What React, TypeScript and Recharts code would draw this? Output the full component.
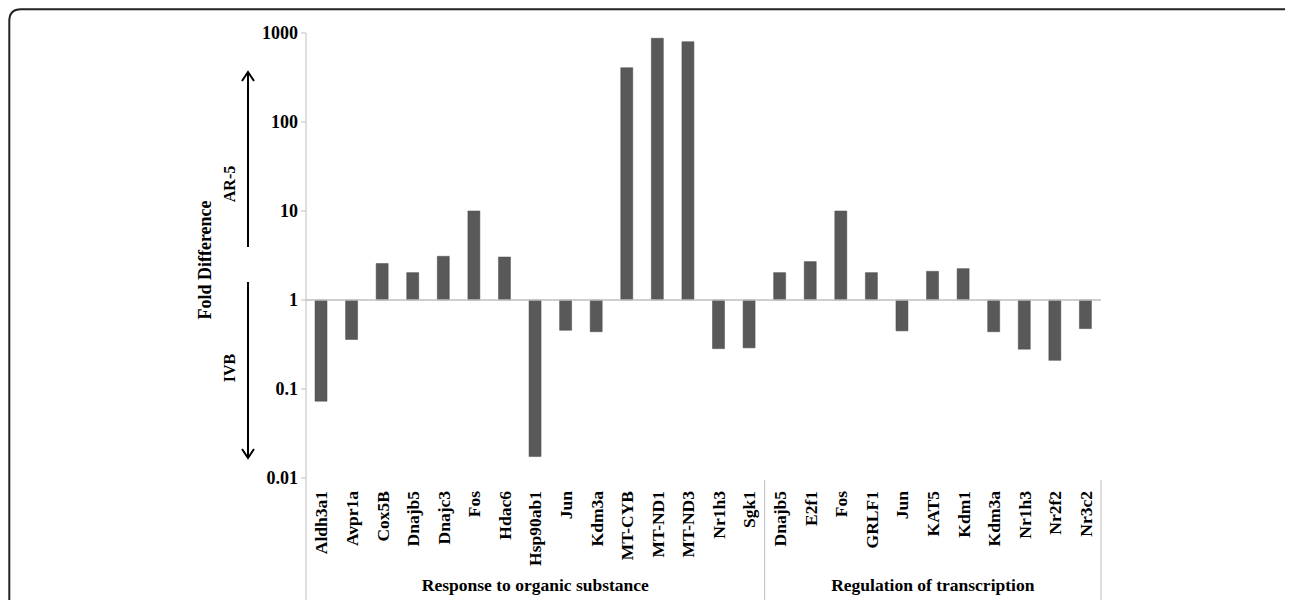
import { BarChart, Bar, XAxis, YAxis, ReferenceLine, Customized } from 'recharts';

// gene labels, left group then right group
const organicGenes = [
  'Aldh3a1', 'Avpr1a', 'Cox5B', 'Dnajb5', 'Dnajc3', 'Fos', 'Hdac6', 'Hsp90ab1',
  'Jun', 'Kdm3a', 'MT-CYB', 'MT-ND1', 'MT-ND3', 'Nr1h3', 'Sgk1',
];
const organicFold = [0.073, 0.36, 2.57, 2.03, 3.1, 10, 3.04, 0.0174, 0.457, 0.44, 407, 873, 799, 0.284, 0.29];

const transcriptionGenes = ['Dnajb5', 'E2f1', 'Fos', 'GRLF1', 'Jun', 'KAT5', 'Kdm1', 'Kdm3a', 'Nr1h3', 'Nr2f2', 'Nr3c2'];
const transcriptionFold = [2.03, 2.7, 10, 2.03, 0.45, 2.1, 2.25, 0.44, 0.28, 0.21, 0.477];

const groups = ['Response to organic substance', 'Regulation of transcription'];
const yTicks = [0.01, 0.1, 1, 10, 100, 1000];

const genes = [...organicGenes, ...transcriptionGenes];
const folds = [...organicFold, ...transcriptionFold];

const data = genes.map((name, i) => ({
  id: `g${i}`,
  name,
  // bars hang from 1, up or down
  range: [Math.min(1, folds[i]), Math.max(1, folds[i])],
}));

const W = 1285;
const H = 592;
const AXIS_W = 298;
const RIGHT = 192;
const TOP = 25;
const X_AXIS_H = 122;
const plotBottom = H - X_AXIS_H;
const plotW = W - AXIS_W - RIGHT;
const band = plotW / genes.length;

const font = '"Liberation Serif", "Times New Roman", serif';
const grey = '#bfbfbf';

function GeneTick({ x, payload }: { x?: number; payload?: { index: number } }) {
  const i = payload?.index ?? 0;
  const cx = x ?? 0;
  const y = plotBottom + 13;
  const left = cx - band / 2;
  const right = cx + band / 2;
  return (
    <g>
      {i === organicGenes.length && <line x1={left} x2={left} y1={plotBottom + 2} y2={H} stroke={grey} />}
      {i === genes.length - 1 && <line x1={right} x2={right} y1={plotBottom + 2} y2={H} stroke={grey} />}
      <text
        x={cx}
        y={y}
        transform={`rotate(-90, ${cx}, ${y})`}
        textAnchor="end"
        dy="0.35em"
        fontFamily={font}
        fontWeight="bold"
        fontSize={17.5}
        fill="#000"
      >
        {genes[i]}
      </text>
    </g>
  );
}

function Extras() {
  const ax = 240;
  const split = AXIS_W + organicGenes.length * band;
  const groupCenters = [(AXIS_W + split) / 2, (split + AXIS_W + plotW) / 2];
  return (
    <g>
      <path
        d="M 1.3 600 L 1.3 13 Q 1.3 1.3 13 1.3 L 1278 1.3 Q 1281 1.3 1282 4 L 1283 8 L 1283 600"
        fill="none"
        stroke="#222"
        strokeWidth={2}
      />
      <line x1={AXIS_W} x2={AXIS_W} y1={plotBottom} y2={H} stroke={grey} />
      {groups.map((g, i) => (
        <text
          key={g}
          x={groupCenters[i]}
          y={583}
          textAnchor="middle"
          fontFamily={font}
          fontWeight="bold"
          fontSize={17.5}
        >
          {g}
        </text>
      ))}
      <text
        x={197}
        y={252}
        transform="rotate(-90, 197, 252)"
        textAnchor="middle"
        dy="0.35em"
        fontFamily={font}
        fontWeight="bold"
        fontSize={18}
      >
        Fold Difference
      </text>
      <text x={221} y={176} transform="rotate(-90, 221, 176)" textAnchor="middle" dy="0.35em"
        fontFamily={font} fontWeight="bold" fontSize={16}>
        AR-5
      </text>
      <text x={221} y={360} transform="rotate(-90, 221, 360)" textAnchor="middle" dy="0.35em"
        fontFamily={font} fontWeight="bold" fontSize={16}>
        IVB
      </text>
      <path d={`M ${ax} 239 L ${ax} 64 M ${ax - 6} 73 L ${ax} 64 L ${ax + 6} 73`} fill="none" stroke="#000" strokeWidth={2} />
      <path d={`M ${ax} 274 L ${ax} 450 M ${ax - 6} 441 L ${ax} 450 L ${ax + 6} 441`} fill="none" stroke="#000" strokeWidth={2} />
    </g>
  );
}

export default function App() {
  return (
    <div style={{ width: W, height: H, background: '#fff' }}>
      <BarChart width={W} height={H} data={data} margin={{ top: TOP, right: RIGHT, bottom: 0, left: 0 }}>
        <XAxis
          dataKey="id"
          height={X_AXIS_H}
          axisLine={false}
          tickLine={false}
          interval={0}
          tick={<GeneTick />}
        />
        <YAxis
          scale="log"
          domain={[0.01, 1000]}
          ticks={yTicks}
          width={AXIS_W}
          allowDataOverflow
          axisLine={{ stroke: grey }}
          tickLine={{ stroke: grey }}
          tickSize={5}
          tickMargin={3}
          tick={{ fontFamily: font, fontWeight: 'bold', fontSize: 18, fill: '#000' }}
        />
        <ReferenceLine y={1} stroke={grey} strokeWidth={1.5} />
        <Bar dataKey="range" fill="#595959" stroke="#4a4a4a" strokeWidth={0.5} barSize={12} isAnimationActive={false} />
        <Customized component={<Extras />} />
      </BarChart>
    </div>
  );
}
